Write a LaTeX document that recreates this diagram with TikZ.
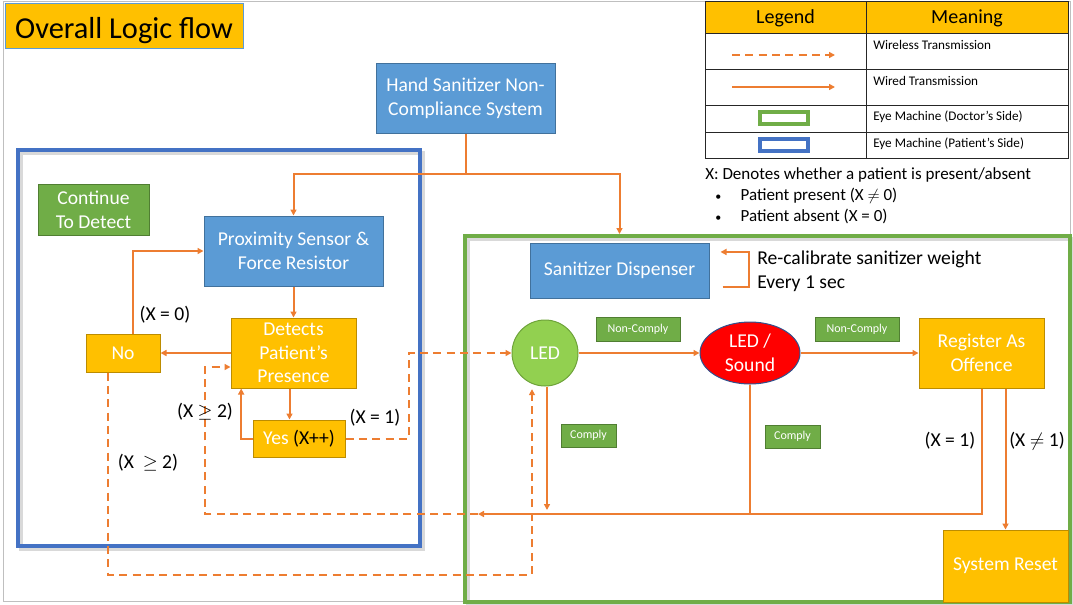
\documentclass[tikz,border=0pt]{standalone}
\usepackage{fontspec}
\setmainfont{Carlito}
\usepackage{tikz}
\usetikzlibrary{shapes.geometric, arrows.meta, positioning, calc}
\definecolor{lineorange}{HTML}{ED7D31}
\definecolor{goldfill}{HTML}{FFC000}
\definecolor{goldborder}{HTML}{BC8C00}
\definecolor{bluefill}{HTML}{5B9BD5}
\definecolor{blueborder}{HTML}{41719C}
\definecolor{greenfill}{HTML}{70AD47}
\definecolor{greenborder}{HTML}{507E32}
\definecolor{ledfill}{HTML}{92D050}
\definecolor{ledborder}{HTML}{6EA33A}
\definecolor{soundborder}{HTML}{2F528F}
\definecolor{patientblue}{HTML}{4472C4}
\definecolor{doctorgreen}{HTML}{70AD47}
\newcommand{\flowfont}{\fontsize{14.7}{17.8}\selectfont}
\newcommand{\titlefont}{\fontsize{22.8}{27}\selectfont}
\newcommand{\headfont}{\fontsize{15}{17}\selectfont}
\newcommand{\legfont}{\fontsize{9.9}{11}\selectfont}
\newcommand{\tagfont}{\fontsize{9}{11}\selectfont}
\newcommand{\notefont}{\fontsize{12.75}{16}\selectfont}
\tikzset{
  boxsize/.style 2 args={minimum width=#1*0.75pt, minimum height=#2*0.75pt},
  wired/.style={draw=lineorange, line width=1.5pt},
  wiredarrow/.style={wired, -{Triangle[length=4.5pt, width=4.5pt]}},
  wireless/.style={wired, dash pattern=on 6pt off 4pt},
  wirelessarrow/.style={wireless, -{Triangle[length=4.5pt, width=4.5pt]}},
  flowbox/.style={rectangle, line width=0.75pt, text=white, font=\flowfont, align=center, inner sep=0pt},
  bluebox/.style={flowbox, draw=blueborder, fill=bluefill},
  goldbox/.style={flowbox, draw=goldborder, fill=goldfill},
  greenbox/.style={flowbox, draw=greenborder, fill=greenfill},
  tagbox/.style={greenbox, font=\tagfont},
  cond/.style={font=\flowfont, inner sep=0pt},
  legendline/.style={draw=black!85, line width=0.75pt},
  shadowline/.style={draw=black!15, line width=3pt},
  sidebox/.style={rectangle, line width=3pt, inner sep=0pt}
}
\begin{document}
\begin{tikzpicture}[x=0.75pt, y=-0.75pt]
    \useasboundingbox (0,0) rectangle (1073,604);
    % --- PAGE AND TITLE ---
    \draw[black!25, line width=0.75pt] (3,1) rectangle (1070,601);
    \node[rectangle, fill=goldfill, draw=bluefill, line width=0.75pt, boxsize={238}{45}, font=\titlefont, text depth=0pt] (title) at (124,25.5) {\raisebox{-4pt}{Overall Logic flow}};

    % --- LEGEND TABLE ---
    \fill[goldfill] (705,1) rectangle (1068,33);
    \draw[legendline] (705,1) rectangle (1068,158);
    \foreach \y in {33,69,105,132} \draw[legendline] (705,\y) -- (1068,\y);
    \draw[legendline] (866,1) -- (866,158);
    \node[font=\headfont] (leghead) at (785.5,18) {Legend};
    \node[font=\headfont] (meanhead) at (967,18) {Meaning};
    \draw[wirelessarrow] (732,55) -- (835,55);
    \draw[wiredarrow] (732,87) -- (835,87);
    \draw[draw=doctorgreen, line width=2.5pt] (760,112) rectangle (808,124);
    \draw[draw=patientblue, line width=2.5pt] (760,139) rectangle (808,151);
    \node[anchor=west, font=\legfont, inner sep=0pt] (wless) at (873,45) {Wireless Transmission};
    \node[anchor=west, font=\legfont, inner sep=0pt] (wred) at (873,81) {Wired Transmission};
    \node[anchor=west, font=\legfont, inner sep=0pt] (docside) at (873,117) {Eye Machine (Doctor’s Side)};
    \node[anchor=west, font=\legfont, inner sep=0pt] (patside) at (873,144) {Eye Machine (Patient’s Side)};

    % --- NOTE ON X ---
    \node[anchor=west, font=\notefont, inner sep=0pt] (xnote) at (705,175) {X: Denotes whether a patient is present/absent};
    \node[anchor=west, font=\notefont, inner sep=0pt] (present) at (715,196) {\makebox[19pt][l]{\small•}Patient present (X $\neq$ 0)};
    \node[anchor=west, font=\notefont, inner sep=0pt] (absent) at (715,216) {\makebox[19pt][l]{\small•}Patient absent (X = 0)};

    % --- MACHINE SIDES ---
    \draw[shadowline] (21,153) rectangle (423,549);
    \node[sidebox, draw=patientblue, boxsize={402}{396}] (patient) at (219,348) {};
    \draw[shadowline] (468,239) rectangle (1072,604);
    \node[sidebox, draw=doctorgreen, boxsize={605}{366}] (doctor) at (767.5,419) {};

    % --- PATIENT SIDE NODES ---
    \node[bluebox, boxsize={179}{70}] (hand) at (465.5,98) {Hand Sanitizer Non-\\Compliance System};
    \node[greenbox, boxsize={111}{51}] (cont) at (93.5,209.5) {Continue\\To Detect};
    \node[bluebox, boxsize={179}{70}] (prox) at (293.5,251) {Proximity Sensor \&\\Force Resistor};
    \node[goldbox, boxsize={125}{70}] (detect) at (293.5,353) {Detects\\Patient’s\\Presence};
    \node[goldbox, boxsize={74}{38}] (no) at (123,353) {No};
    \node[goldbox, boxsize={92}{37}] (yes) at (299,438.5) {Yes \textcolor{black}{(X++)}};

    % --- DOCTOR SIDE NODES ---
    \node[bluebox, boxsize={179}{55}] (disp) at (619.5,270.5) {Sanitizer Dispenser};
    \node[anchor=west, align=left, inner sep=0pt, font=\flowfont] (recal) at (757,271) {Re-calibrate sanitizer weight\\Every 1 sec};
    \node[circle, draw=ledborder, fill=ledfill, line width=0.75pt, minimum size=49.5pt, inner sep=0pt, text=white, font=\flowfont] (led) at (545,353) {LED};
    \node[ellipse, draw=soundborder, fill=red, line width=0.75pt, boxsize={100}{62}, inner sep=0pt, text=white, font=\flowfont, align=center] (sound) at (750,353) {LED /\\Sound};
    \node[goldbox, boxsize={125}{70}] (reg) at (981.5,353) {Register As\\Offence};
    \node[goldbox, boxsize={125}{72}] (reset) at (1005.5,566) {System Reset};
    \node[tagbox, boxsize={84}{24}] (nc1) at (638,329) {Non-Comply};
    \node[tagbox, boxsize={84}{24}] (nc2) at (857,329) {Non-Comply};
    \node[tagbox, boxsize={55}{23}] (cp1) at (588.5,435.5) {Comply};
    \node[tagbox, boxsize={55}{23}] (cp2) at (792.5,436.5) {Comply};

    % --- WIRED CONNECTORS ---
    \coordinate (split) at (465.5,174);
    \coordinate (back) at (478,514);
    \draw[wired] (hand.south) -- (split);
    \draw[wiredarrow] (split) -| (prox.north);
    \draw[wiredarrow] (split) -| (disp.north |- doctor.north);
    \draw[wiredarrow] (prox.south) -- (detect.north);
    \draw[wiredarrow] (detect.west) -- (no.east);
    \draw[wiredarrow] ($(no.north)+(10,0)$) |- (prox.west);
    \draw[wiredarrow] ([xshift=-3pt]detect.south) -- ([xshift=-3pt]detect.south |- yes.north);
    \draw[wiredarrow] (yes.west) -| ([xshift=8pt]detect.south west);
    \draw[wiredarrow] ([shift={(9.75pt,-12pt)}]disp.east) -- ++(26,0) |- ([shift={(8.25pt,13.9pt)}]disp.east);
    \draw[wiredarrow] (led.east) -- (sound.west);
    \draw[wiredarrow] (sound.east) -- (reg.west);
    \draw[wiredarrow, shorten >=3pt] ([xshift=1.5pt]led.south) -- ([xshift=1.5pt]led.south |- back);
    \draw[wired] (sound.south) -- (sound.south |- back);
    \draw[wiredarrow] (reg.south) |- (back);
    \draw[wiredarrow] (reg.south -| reset.north) -- (reset.north);

    % --- WIRELESS CONNECTORS ---
    \draw[wirelessarrow] (yes.east) -- ++(63,0) |- (led.west);
    \draw[wirelessarrow] (back) -- ++(-273,0) |- ([yshift=-10.5pt]detect.west);
    \draw[wirelessarrow] ([xshift=-11.25pt]no.south) -- ++(0,202) -| ([shift={(-9.75pt,-2pt)}]led.south);

    % --- CONDITIONS ---
    \node[cond] (xzero) at (165,315) {(X = 0)};
    \node[cond] (xtwoa) at (205,412) {(X $\geq$ 2)};
    \node[cond] (xonea) at (375,418) {(X = 1)};
    \node[cond] (xtwob) at (148,463) {(X \ $\geq$ 2)};
    \node[cond] (xoneb) at (950,441) {(X = 1)};
    \node[cond] (xnotone) at (1037,441) {(X $\neq$ 1)};
\end{tikzpicture}
\end{document}
